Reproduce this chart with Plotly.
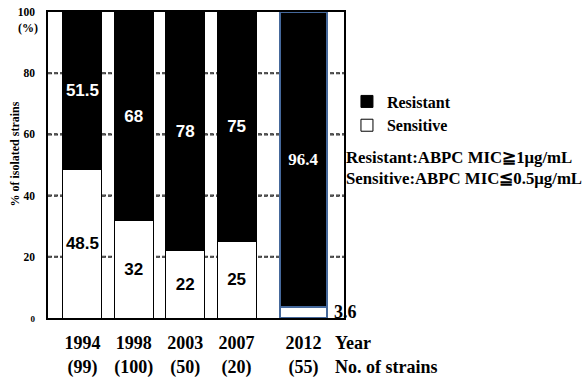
import plotly.graph_objects as go

# ---- data ----
years = ["1994", "1998", "2003", "2007", "2012"]
n_strains = [99, 100, 50, 20, 55]
resistant = [51.5, 68, 78, 75, 96.4]
sensitive = [48.5, 32, 22, 25, 3.6]
y_ticks = [0, 20, 40, 60, 80, 100]

# ---- layout helpers (positions / styles) ----
x_pos = [0, 1, 2, 3, 4.3]
bar_widths = [0.76, 0.76, 0.76, 0.76, 0.9]
edge_colors = ["black", "black", "black", "black", "#45689B"]
edge_widths = [1, 1, 1, 1, 2]
serif = "Liberation Serif"
sans = "Liberation Sans"

def fmt(v):
    return f"{v:g}"

sens_text = [fmt(v) for v in sensitive[:-1]] + [""]
res_text = [fmt(v) for v in resistant]
res_fonts = [sans] * 4 + [serif]

fig = go.Figure()
fig.add_trace(go.Bar(
    x=x_pos, y=sensitive, width=bar_widths, name="Sensitive",
    marker=dict(color="white", line=dict(color=edge_colors, width=edge_widths)),
    text=sens_text, textposition="inside", insidetextanchor="middle",
    textangle=0, constraintext="none",
    textfont=dict(family=sans, size=17, color="black", weight="bold"),
))
fig.add_trace(go.Bar(
    x=x_pos, y=resistant, width=bar_widths, name="Resistant",
    marker=dict(color="black", line=dict(color=edge_colors, width=edge_widths)),
    text=res_text, textposition="inside", insidetextanchor="middle",
    textangle=0, constraintext="none",
    textfont=dict(family=res_fonts, size=17, color="white", weight="bold"),
))

# dotted horizontal grid lines at the inner y ticks (drawn beneath the bars)
grid_shapes = [
    dict(type="line", xref="x", yref="y", x0=-0.67, x1=5.09, y0=v, y1=v,
         layer="below", line=dict(color="#333333", width=2, dash="4px,2px"))
    for v in y_ticks[1:-1]
]

tick_text = [f"{y}<br>({n})" for y, n in zip(years, n_strains)]
y_tick_text = ['<span style="font-size:9px">0</span>'] + [str(v) for v in y_ticks[1:]]

fig.update_layout(
    width=585, height=378,
    margin=dict(l=48, r=241, t=12, b=60, autoexpand=False),
    paper_bgcolor="white", plot_bgcolor="rgba(0,0,0,0)",
    barmode="stack",
    showlegend=True,
    shapes=grid_shapes,
    legend=dict(
        x=1.01, y=0.763, xanchor="left", yanchor="top",
        traceorder="reversed",
        font=dict(family=serif, size=16, color="black", weight="bold"),
        bgcolor="rgba(0,0,0,0)",
    ),
    xaxis=dict(
        range=[-0.67, 5.09], automargin=False,
        tickmode="array", tickvals=x_pos, ticktext=tick_text,
        tickfont=dict(family=serif, size=18, color="black", weight="bold"),
        showgrid=False, zeroline=False,
        showline=True, mirror=True, linecolor="black", linewidth=1.5,
        ticks="", ticklabelstandoff=8,
    ),
    yaxis=dict(
        range=[0, 100], automargin=False,
        tickmode="array", tickvals=y_ticks, ticktext=y_tick_text,
        tickfont=dict(family=serif, size=11.5, color="black", weight="bold"),
        showgrid=True, gridcolor="#555555", gridwidth=1.5, griddash="dot",
        zeroline=False,
        showline=True, mirror=True, linecolor="black", linewidth=1.5,
        ticks="", ticklabelstandoff=9,
    ),
    annotations=[
        dict(text="(%)", xref="paper", yref="paper", x=-0.069, y=0.948,
             showarrow=False, xanchor="center", yanchor="middle",
             font=dict(family=serif, size=12, color="black", weight="bold")),
        dict(text="% of isolated strains", xref="paper", yref="paper",
             x=-0.113, y=0.536, textangle=-90, showarrow=False,
             xanchor="center", yanchor="middle",
             font=dict(family=serif, size=12, color="black", weight="bold")),
        dict(text="Year", xref="paper", yref="paper", x=0.963, y=-0.082,
             showarrow=False, xanchor="left", yanchor="middle",
             font=dict(family=serif, size=18, color="black", weight="bold")),
        dict(text="No. of strains", xref="paper", yref="paper", x=0.963, y=-0.160,
             showarrow=False, xanchor="left", yanchor="middle",
             font=dict(family=serif, size=18, color="black", weight="bold")),
        dict(text="Resistant:ABPC MIC≧1μg/mL", xref="paper", yref="paper",
             x=1.0, y=0.526, showarrow=False, xanchor="left", yanchor="middle",
             font=dict(family=serif, size=16.8, color="black", weight="bold")),
        dict(text="Sensitive:ABPC MIC≦0.5μg/mL", xref="paper", yref="paper",
             x=1.0, y=0.455, showarrow=False, xanchor="left", yanchor="middle",
             font=dict(family=serif, size=16.8, color="black", weight="bold")),
        dict(text=fmt(sensitive[-1]), xref="x", yref="y",
             x=x_pos[-1] + bar_widths[-1] / 2, y=sensitive[-1] / 2,
             showarrow=False, xanchor="left", yanchor="middle", xshift=5,
             font=dict(family=serif, size=18, color="black", weight="bold")),
    ],
)

fig.write_html(
    "out.html",
    config={"displayModeBar": False},
    post_script="document.body.style.margin='0';document.body.style.overflow='hidden';",
)
